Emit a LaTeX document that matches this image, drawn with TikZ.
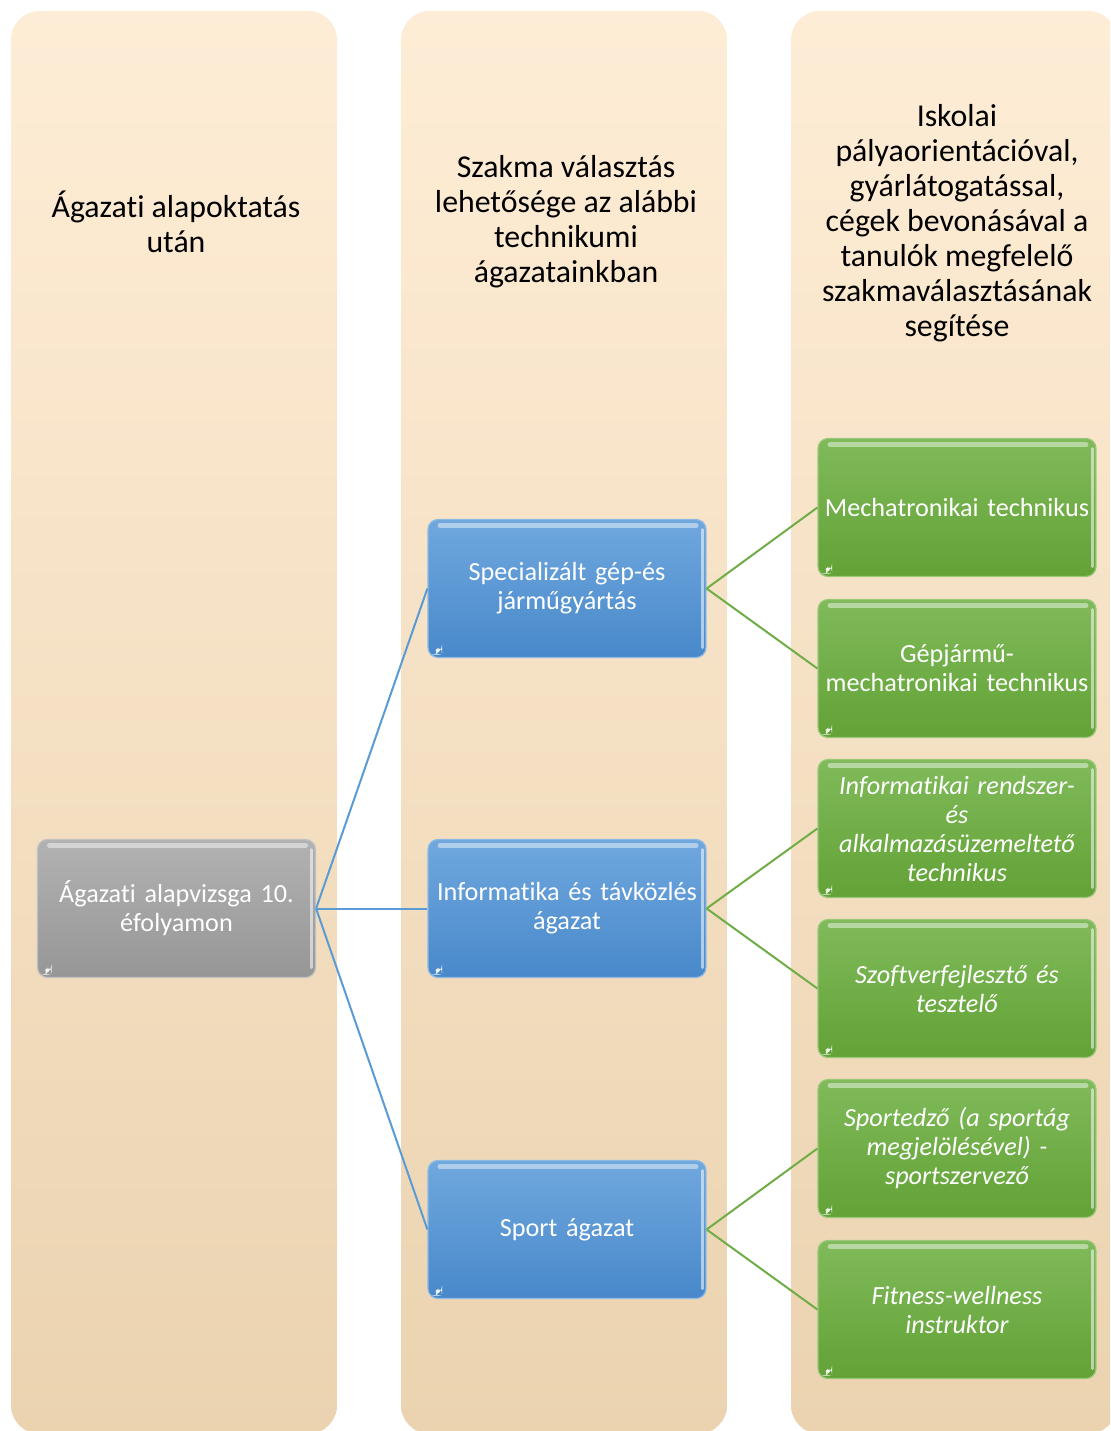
\documentclass[tikz,border=0pt]{standalone}
\usepackage{fontspec}
\setmainfont{Carlito}[Ligatures=NoCommon]
\definecolor{colTop}{RGB}{254,237,214}
\definecolor{colBot}{RGB}{235,211,176}
\definecolor{greyTop}{RGB}{178,178,178}
\definecolor{greyBot}{RGB}{150,150,150}
\definecolor{blueTop}{RGB}{112,168,222}
\definecolor{blueBot}{RGB}{72,136,202}
\definecolor{greenTop}{RGB}{128,186,90}
\definecolor{greenBot}{RGB}{98,162,54}
\definecolor{blueLine}{RGB}{91,155,213}
\definecolor{greenLine}{RGB}{112,173,71}
\begin{document}
\begin{tikzpicture}[x=0.5pt,y=-0.5pt,
  col/.style={rounded corners=15pt, top color=colTop, bottom color=colBot,
    draw=white, line width=0.8pt, minimum width=164pt, minimum height=712.5pt, inner sep=0pt},
  hdr/.style={align=center, font=\fontsize{15.9}{17.5}\selectfont, text=black},
  box/.style={rounded corners=5pt, minimum width=139pt, minimum height=69pt,
    text width=137pt, align=center, text=white, inner sep=1pt,
    font=\fontsize{13.1}{14.5}\selectfont, line width=0.6pt,
    path picture={
      \draw[white, opacity=0.45, line width=2.5pt, line cap=round]
        ([xshift=6pt,yshift=-3pt]path picture bounding box.north west) --
        ([xshift=-5pt,yshift=-3pt]path picture bounding box.north east);
      \draw[white, opacity=0.55, line width=1.5pt, line cap=round]
        ([xshift=-2pt,yshift=-5pt]path picture bounding box.north east) --
        ([xshift=-2pt,yshift=5pt]path picture bounding box.south east);
      \fill[white, opacity=0.9]
        ([xshift=1.5pt,yshift=1.5pt]path picture bounding box.south west) --
        ([xshift=7pt,yshift=1.5pt]path picture bounding box.south west) --
        ([xshift=7pt,yshift=7pt]path picture bounding box.south west) -- cycle;
    }},
  gbox/.style={box, top color=greyTop, bottom color=greyBot, draw=greyTop!80!white},
  bbox/.style={box, top color=blueTop, bottom color=blueBot, draw=blueTop!80!white},
  grbox/.style={box, top color=greenTop, bottom color=greenBot, draw=greenTop!80!white},
  it/.style={font=\fontsize{13.1}{14.5}\selectfont\itshape},
  bl/.style={draw=blueLine, line width=1pt},
  gl/.style={draw=greenLine, line width=1pt}
]
\useasboundingbox (0,0) rectangle (1110,1431);
\clip (0,0) rectangle (1110,1431);
\fill[white] (0,0) rectangle (1110,1431);

% columns
\node[col] (c1) at (174,722.5) {};
\node[col] (c2) at (564,722.5) {};
\node[col] (c3) at (954,722.5) {};

% headers
\node[hdr] (h1) at (176,222) {Ágazati alapoktatás\\után};
\node[hdr] (h2) at (566,222) {Szakma választás\\lehetősége az alábbi\\technikumi\\ágazatainkban};
\node[hdr] (h3) at (957,223) {Iskolai\\pályaorientációval,\\gyárlátogatással,\\cégek bevonásával a\\tanulók megfelelő\\szakmaválasztásának\\segítése};

% boxes
\node[gbox] (g) at (176.5,908.5) {Ágazati alapvizsga 10.\\éfolyamon};

\node[bbox] (b1) at (567,588.5) {Specializált gép-és\\járműgyártás};
\node[bbox] (b2) at (567,908.5) {Informatika és távközlés\\ágazat};
\node[bbox] (b3) at (567,1229.5) {Sport ágazat};

\node[grbox] (e1) at (957,507.5) {Mechatronikai technikus};
\node[grbox] (e2) at (957,668.5) {Gépjármű-\\mechatronikai technikus};
\node[grbox,it] (e3) at (957,828.5) {Informatikai rendszer-\\és\\alkalmazásüzemeltető\\technikus};
\node[grbox,it] (e4) at (957,988.5) {Szoftverfejlesztő és\\tesztelő};
\node[grbox,it] (e5) at (957,1148.5) {Sportedző (a sportág\\megjelölésével) -\\sportszervező};
\node[grbox,it] (e6) at (957,1309.5) {Fitness-wellness\\instruktor};

% connectors
\draw[bl] (g.east) -- (b1.west);
\draw[bl] (g.east) -- (b2.west);
\draw[bl] (g.east) -- (b3.west);

\draw[gl] (b1.east) -- (e1.west);
\draw[gl] (b1.east) -- (e2.west);
\draw[gl] (b2.east) -- (e3.west);
\draw[gl] (b2.east) -- (e4.west);
\draw[gl] (b3.east) -- (e5.west);
\draw[gl] (b3.east) -- (e6.west);
\end{tikzpicture}
\end{document}
